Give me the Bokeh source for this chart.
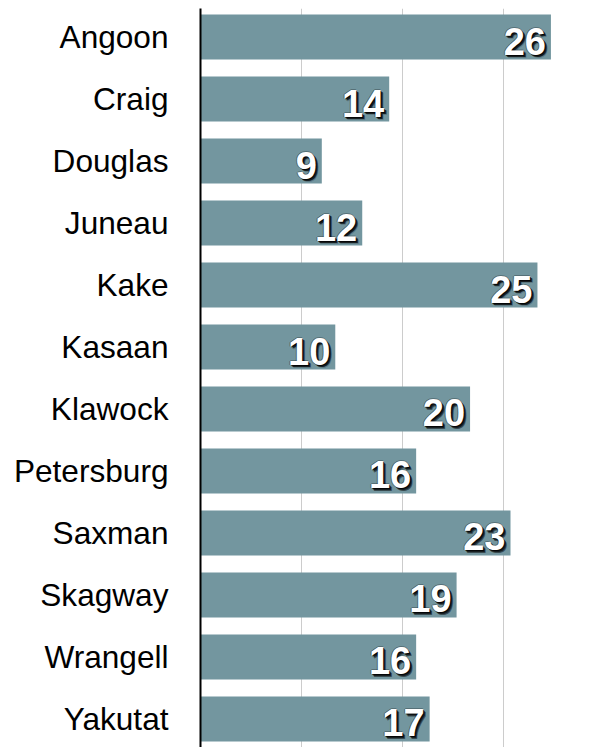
from bokeh.plotting import figure
from bokeh.models import ColumnDataSource, FixedTicker, Range1d, FactorRange, Arrow
from bokeh.core.properties import value
from bokeh.embed import file_html
from bokeh.resources import INLINE

# ---- data ----
communities = ["Angoon", "Craig", "Douglas", "Juneau", "Kake", "Kasaan",
               "Klawock", "Petersburg", "Saxman", "Skagway", "Wrangell", "Yakutat"]
counts = [26, 14, 9, 12, 25, 10, 20, 16, 23, 19, 16, 17]
grid_ticks = [7.5, 15, 22.5, 30]

BAR = "#73969F"
FONT = "Liberation Sans"

src = ColumnDataSource(dict(cat=communities, val=counts,
                            lbl=[str(v) for v in counts]))

p = figure(width=603, height=747, output_backend="svg", toolbar_location=None,
           y_range=FactorRange(factors=list(reversed(communities)),
                               range_padding=-0.04, range_padding_units="absolute"),
           x_range=Range1d(0, 29.9),
           min_border_left=200, min_border_right=0, min_border_top=8, min_border_bottom=0)
p.outline_line_color = None
p.background_fill_color = "white"
p.border_fill_color = "white"

p.hbar(y="cat", right="val", left=0, height=0.727, source=src,
       fill_color=BAR, line_color=None)

# value labels with a soft dark shadow
for dx, dy, a in [(3, 3, 0.2), (2.5, 2.5, 0.4), (2, 2, 0.6), (1, 1, 0.8), (-1, 0, 0.35), (0, -1, 0.25)]:
    p.text(x="val", y="cat", text="lbl", source=src, x_offset=-5 + dx, y_offset=4 + dy,
           text_align="right", text_baseline="middle", text_font=value(FONT),
           text_font_style="bold", text_font_size="38px", text_color="black", text_alpha=a)
p.text(x="val", y="cat", text="lbl", source=src, x_offset=-5, y_offset=4,
       text_align="right", text_baseline="middle", text_font=value(FONT),
       text_font_style="bold", text_font_size="38px", text_color="white")

p.xaxis.visible = False
p.xgrid.ticker = FixedTicker(ticks=grid_ticks)
p.xgrid.grid_line_color = "#cccccc"
p.xgrid.grid_line_width = 1
p.ygrid.grid_line_color = None

ax = p.yaxis[0]
ax.axis_line_color = "black"
ax.axis_line_width = 2
ax.major_tick_out = 0
ax.major_tick_in = 0
ax.minor_tick_out = 0
ax.minor_tick_in = 0
ax.major_label_standoff = 32
ax.major_label_text_font = FONT
ax.major_label_text_font_size = "31.6px"
ax.major_label_text_color = "black"

# faint stray vertical line at the top left
p.add_layout(Arrow(x_start=-187, y_start=747, x_end=-187, y_end=630,
                   start_units="screen", end_units="screen", end=None,
                   line_color="#d0d0d0", line_width=1.5))

open("out.html", "w").write(file_html(p, INLINE))
